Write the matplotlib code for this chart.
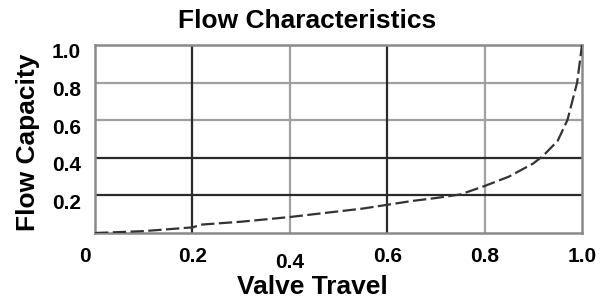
import matplotlib
matplotlib.use("Agg")
import matplotlib.pyplot as plt
from matplotlib.transforms import ScaledTranslation

plt.rcParams['font.family'] = ['Liberation Sans', 'DejaVu Sans']
plt.rcParams['font.weight'] = 'bold'

# valve travel vs flow capacity
travel = [0, 0.05, 0.1, 0.15, 0.2, 0.22, 0.3, 0.4, 0.5, 0.55, 0.6, 0.65,
          0.7, 0.75, 0.8, 0.85, 0.9, 0.92, 0.95, 0.97, 0.98, 0.99, 1.0]
capacity = [0, 0.005, 0.01, 0.02, 0.03, 0.045, 0.06, 0.085, 0.115, 0.13, 0.15, 0.17,
            0.186, 0.205, 0.25, 0.30, 0.37, 0.41, 0.49, 0.6, 0.7, 0.8, 1.0]

x_ticks = [0, 0.2, 0.4, 0.6, 0.8, 1.0]
x_labels = ["0", "0.2", "0.4", "0.6", "0.8", "1.0"]
y_ticks = [0.2, 0.4, 0.6, 0.8, 1.0]
y_labels = ["0.2", "0.4", "0.6", "0.8", "1.0"]
dark_x = [0.2, 0.6]
light_x = [0.4, 0.8]
dark_y = [0.2, 0.4]
light_y = [0.6, 0.8]

fig = plt.figure(figsize=(6.13, 3.03), dpi=100)
ax = fig.add_axes([95 / 613, 70 / 303, 487 / 613, 188 / 303])

for v in light_x:
    ax.axvline(v, color="#a0a0a0", lw=1.6, zorder=1)
for v in light_y:
    ax.axhline(v, color="#a0a0a0", lw=1.6, zorder=1)
for v in dark_x:
    ax.axvline(v, color="#2a2a2a", lw=1.6, zorder=1)
for v in dark_y:
    ax.axhline(v, color="#2a2a2a", lw=1.6, zorder=1)

ax.plot(travel, capacity, color="#333333", lw=1.6, dashes=(6, 2), zorder=3)

ax.set_xlim(0, 1.0)
ax.set_ylim(0, 1.0)
for s in ax.spines.values():
    s.set_color("#8a8a8a")
    s.set_linewidth(1.8)

ax.tick_params(axis="x", length=0, pad=10, labelsize=15)
ax.tick_params(axis="y", length=0, pad=10, labelsize=15)
ax.set_xticks(x_ticks)
ax.set_xticklabels(x_labels, fontsize=15, fontweight="bold")
ax.set_yticks(y_ticks)
ax.set_yticklabels(y_labels, fontsize=15, fontweight="bold")

# nudge labels like the original
for lab in ax.get_yticklabels():
    lab.set_transform(lab.get_transform() + ScaledTranslation(0, -6 / 100, fig.dpi_scale_trans))
xl = ax.get_xticklabels()
xl[0].set_transform(xl[0].get_transform() + ScaledTranslation(-10 / 100, 0, fig.dpi_scale_trans))
xl[2].set_transform(xl[2].get_transform() + ScaledTranslation(0, -6 / 100, fig.dpi_scale_trans))

ax.set_title("Flow Characteristics", fontsize=19, fontweight="bold", x=0.435, pad=12)
ax.set_xlabel("Valve Travel", fontsize=19, fontweight="bold")
ax.xaxis.set_label_coords(0.446, -0.225)
ax.set_ylabel("Flow Capacity", fontsize=19, fontweight="bold")
ax.yaxis.set_label_coords(-0.112, 0.484)

fig.savefig("out.png", dpi=100)
